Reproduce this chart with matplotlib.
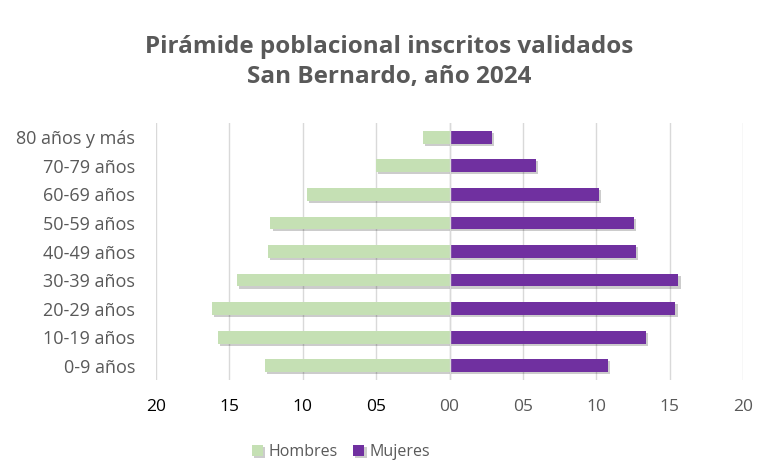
import matplotlib.pyplot as plt
import matplotlib.patheffects as pe
import numpy as np

grupos = ['0-9 años', '10-19 años', '20-29 años', '30-39 años', '40-49 años',
          '50-59 años', '60-69 años', '70-79 años', '80 años y más']
hombres = [12.6, 15.8, 16.2, 14.5, 12.4, 12.2, 9.7, 5.0, 1.8]
mujeres = [10.8, 13.4, 15.4, 15.6, 12.7, 12.6, 10.2, 5.9, 2.9]
ticks = [-20, -15, -10, -5, 0, 5, 10, 15, 20]
tick_labels = ['20', '15', '10', '05', '00', '05', '10', '15', '20']

plt.rcParams['font.family'] = ['Open Sans', 'DejaVu Sans']

fig = plt.figure(figsize=(7.61, 4.61), dpi=100)
ax = fig.add_axes([156 / 761, 1 - 380 / 461, (743 - 156) / 761, (380 - 123) / 461])

y = np.arange(len(grupos))
sombra = [pe.SimplePatchShadow(offset=(1.5, -1.5), shadow_rgbFace='#000000', alpha=0.2), pe.Normal()]
bh = ax.barh(y, -np.array(hombres), height=0.45, color='#C5E0B4', label='Hombres', zorder=3)
bm = ax.barh(y, mujeres, height=0.45, color='#7030A0', label='Mujeres', zorder=3)
for b in list(bh) + list(bm):
    b.set_path_effects(sombra)

ax.set_xlim(-20, 20)
ax.set_ylim(-0.5, len(grupos) - 0.5)
ax.set_xticks(ticks)
ax.set_xticklabels(tick_labels, fontsize=12.5)
for i, t in enumerate(ax.get_xticklabels()):
    t.set_color('#000000' if i < 4 else '#595959')
ax.set_yticks(y)
ax.set_yticklabels(grupos, fontsize=13, color='#595959')
ax.tick_params(length=0)
ax.tick_params(axis='y', pad=15)
ax.tick_params(axis='x', pad=14)
ax.grid(axis='x', color='#D9D9D9', linewidth=1, zorder=0)
for s in ax.spines.values():
    s.set_visible(False)
ax.axvline(0, color='#D9D9D9', linewidth=1, zorder=4)

fig.suptitle('Pirámide poblacional inscritos validados\nSan Bernardo, año 2024',
             x=389 / 761, y=1 - 35 / 461, fontsize=17.5, fontweight='bold',
             color='#595959', va='top', linespacing=1.35)

fig.legend(handles=[bh, bm], loc='center', bbox_to_anchor=(341 / 761, 1 - 452 / 461),
           ncol=2, frameon=False, fontsize=11.5, labelcolor='#595959',
           handlelength=0.7, handleheight=0.7, handletextpad=0.3, columnspacing=1.0)

fig.savefig('out.png', dpi=100)
